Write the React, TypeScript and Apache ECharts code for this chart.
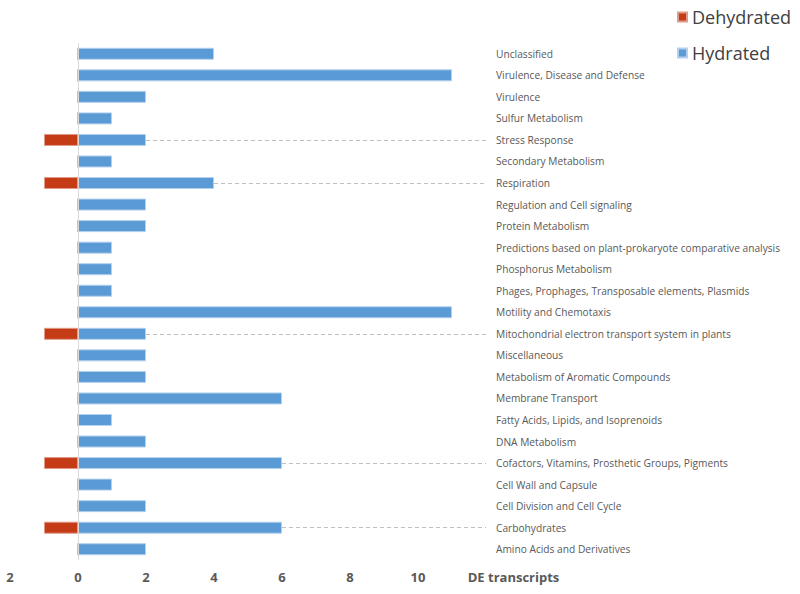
import React, { useEffect, useRef } from "react";
import * as echarts from "echarts";

const categories = [
  "Unclassified",
  "Virulence, Disease and Defense",
  "Virulence",
  "Sulfur Metabolism",
  "Stress Response",
  "Secondary Metabolism",
  "Respiration",
  "Regulation and Cell signaling",
  "Protein Metabolism",
  "Predictions based on plant-prokaryote comparative analysis",
  "Phosphorus Metabolism",
  "Phages, Prophages, Transposable elements, Plasmids",
  "Motility and Chemotaxis",
  "Mitochondrial electron transport system in plants",
  "Miscellaneous",
  "Metabolism of Aromatic Compounds",
  "Membrane Transport",
  "Fatty Acids, Lipids, and Isoprenoids",
  "DNA Metabolism",
  "Cofactors, Vitamins, Prosthetic Groups, Pigments",
  "Cell Wall and Capsule",
  "Cell Division and Cell Cycle",
  "Carbohydrates",
  "Amino Acids and Derivatives",
];

const hydrated = [4, 11, 2, 1, 2, 1, 4, 2, 2, 1, 1, 1, 11, 2, 2, 2, 6, 1, 2, 6, 1, 2, 6, 2];
const dehydrated = [0, 0, 0, 0, -1, 0, -1, 0, 0, 0, 0, 0, 0, -1, 0, 0, 0, 0, 0, -1, 0, 0, -1, 0];

const xTicks = [-2, 0, 2, 4, 6, 8, 10, 12];
const axisTitle = "DE transcripts";
const FONT = "'Open Sans', sans-serif";

export default function App() {
  const ref = useRef<HTMLDivElement>(null);
  useEffect(() => {
    document.body.style.margin = "0";
    if (!ref.current) return;
    const chart = echarts.init(ref.current, null, { renderer: "svg" });
    const axisMax = xTicks[xTicks.length - 1];
    const dashed = categories
      .map((c, i) => ({ c, i }))
      .filter(({ i }) => dehydrated[i] !== 0)
      .map(({ c, i }) => [
        { coord: [hydrated[i], c] },
        { coord: [axisMax, c] },
      ]);
    chart.setOption({
      animation: false,
      textStyle: { fontFamily: FONT },
      legend: {
        orient: "vertical",
        left: 672,
        top: 2,
        itemWidth: 9,
        itemHeight: 9,
        itemGap: 16,
        icon: "rect",
        data: ["Dehydrated", "Hydrated"],
        textStyle: { fontSize: 18, color: "#404040", fontFamily: FONT, lineHeight: 20 },
      },
      grid: { left: 10, right: 314, top: 43, bottom: 34, containLabel: false },
      xAxis: {
        type: "value",
        min: xTicks[0],
        max: axisMax,
        interval: 2,
        axisLine: { show: false },
        axisTick: { show: false },
        splitLine: { show: false },
        axisLabel: {
          margin: 10,
          fontSize: 13,
          fontWeight: "bold",
          color: "#595959",
          fontFamily: FONT,
          showMaxLabel: true,
          formatter: (v: number) =>
            v === axisMax ? "{n|" + axisTitle + "}" : String(Math.abs(v)),
          rich: {
            n: {
              fontSize: 13,
              fontWeight: "bold",
              color: "#595959",
              fontFamily: FONT,
              padding: [0, 0, 0, 55],
            },
          },
        },
      },
      yAxis: {
        type: "category",
        data: categories,
        inverse: true,
        position: "right",
        axisLine: { show: false },
        axisTick: { show: false },
        splitLine: { show: false },
        axisLabel: {
          margin: 10,
          fontSize: 10.2,
          color: "#595959",
          fontFamily: FONT,
          align: "left",
        },
      },
      series: [
        {
          name: "Dehydrated",
          type: "bar",
          data: dehydrated,
          barWidth: 12,
          barGap: "-100%",
          itemStyle: { color: "#C43B16", borderColor: "#E09A88", borderWidth: 1 },
          markLine: {
            silent: true,
            symbol: ["none", "none"],
            label: { show: false },
            lineStyle: { color: "#BFBFBF", type: [4, 3], width: 1 },
            data: dashed,
          },
        },
        {
          name: "Hydrated",
          type: "bar",
          data: hydrated,
          barWidth: 12,
          barGap: "-100%",
          itemStyle: { color: "#5B9BD5", borderColor: "#B4D0EE", borderWidth: 1 },
          markLine: {
            silent: true,
            symbol: ["none", "none"],
            label: { show: false },
            lineStyle: { color: "#D9D9D9", type: "solid", width: 1 },
            data: [{ xAxis: 0 }],
          },
        },
      ],
    });
    return () => chart.dispose();
  }, []);
  return <div ref={ref} style={{ width: 800, height: 594 }} />;
}
